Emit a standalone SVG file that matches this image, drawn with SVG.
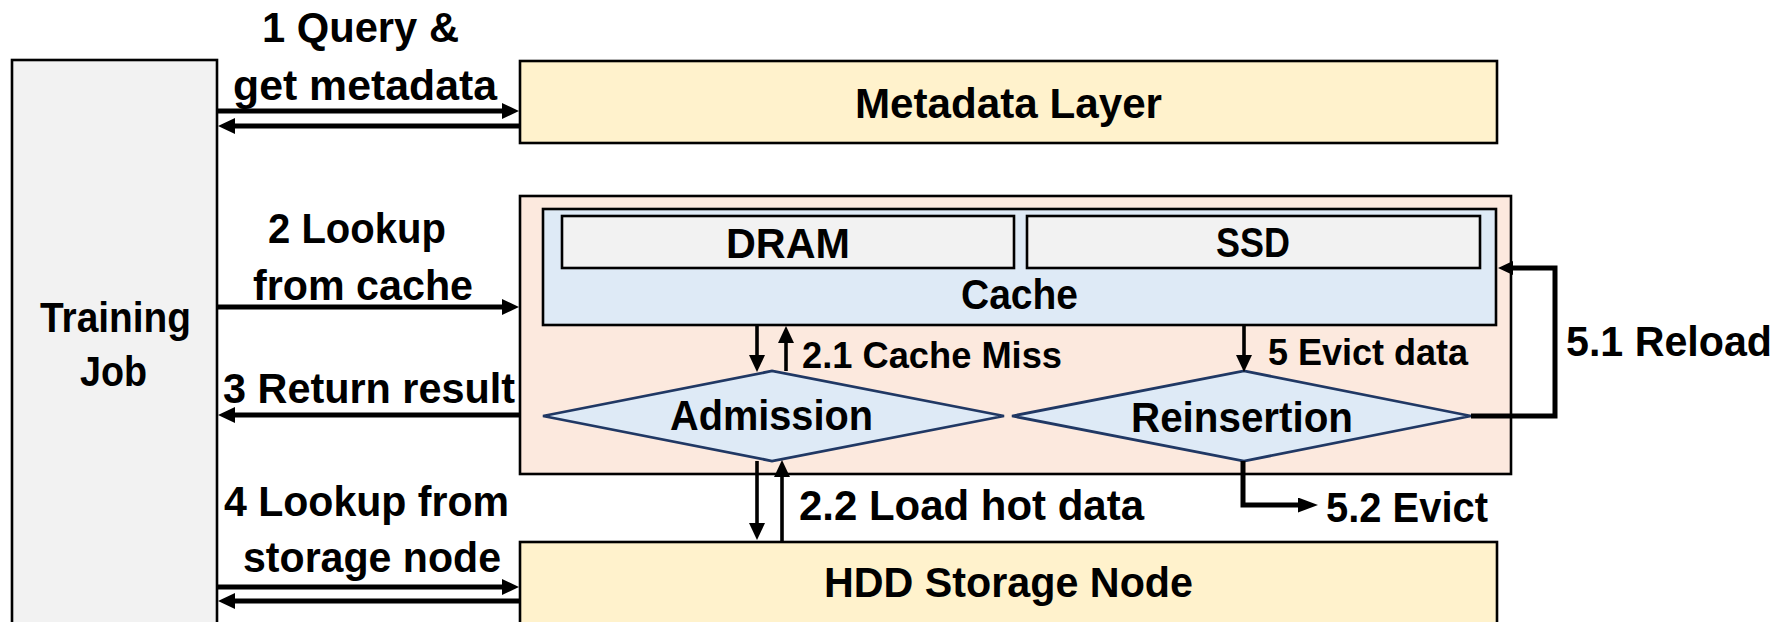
<svg xmlns="http://www.w3.org/2000/svg" width="1786" height="622" viewBox="0 0 1786 622">
  <style>
    .box { stroke: #000; stroke-width: 2.6; }
    .job { fill: #f2f2f2; }
    .layer { fill: #fff2cc; }
    .cachebg { fill: #fce9de; }
    .cache { fill: #deeaf6; }
    .tier { fill: #f2f2f2; }
    .gate { fill: #deeaf6; stroke: #203864; stroke-width: 2.8; stroke-linejoin: miter; }
    text { font-family: "Liberation Sans", Arial, sans-serif; font-weight: bold; fill: #000; }
    .lbl { font-size: 42px; }
    .sm { font-size: 36px; }
    .thick { fill: none; stroke: #000; stroke-width: 4.8; marker-end: url(#head); }
    .thin { fill: none; stroke: #000; stroke-width: 3.6; marker-end: url(#head); }
    .route { fill: none; stroke: #000; stroke-width: 5; }
  </style>
  <defs>
    <marker id="head" markerUnits="userSpaceOnUse" viewBox="0 0 17 16" markerWidth="17" markerHeight="16" refX="5" refY="8" orient="auto">
      <path d="M0,0 L17,8 L0,16 Z" fill="#000"/>
    </marker>
    <marker id="headS" markerUnits="userSpaceOnUse" viewBox="0 0 20 15" markerWidth="20" markerHeight="15" refX="8" refY="7.5" orient="auto">
      <path d="M0,0 L20,7.5 L0,15 Z" fill="#000"/>
    </marker>
    <marker id="headR" markerUnits="userSpaceOnUse" viewBox="0 0 15 14" markerWidth="15" markerHeight="14" refX="4" refY="7" orient="auto">
      <path d="M0,0 L15,7 L0,14 Z" fill="#000"/>
    </marker>
  </defs>

  <g id="training-job">
    <rect class="box job" x="12" y="60" width="205" height="590"/>
    <text class="lbl" x="40" y="332" textLength="151" lengthAdjust="spacingAndGlyphs">Training</text>
    <text class="lbl" x="80" y="386" textLength="67" lengthAdjust="spacingAndGlyphs">Job</text>
  </g>

  <g id="metadata-layer">
    <rect class="box layer" x="520" y="61" width="977" height="82"/>
    <text class="lbl" x="855" y="118" textLength="307" lengthAdjust="spacingAndGlyphs">Metadata Layer</text>
  </g>

  <g id="cache-node">
    <rect class="box cachebg" x="520" y="196" width="991" height="278"/>
  </g>

  <g id="cache">
    <rect class="box cache" x="543" y="209" width="953" height="116"/>
    <text class="lbl" x="961" y="309" textLength="117" lengthAdjust="spacingAndGlyphs">Cache</text>
  </g>

  <g id="dram">
    <rect class="box tier" x="562" y="216" width="452" height="52"/>
    <text class="lbl" x="726" y="258" textLength="124" lengthAdjust="spacingAndGlyphs">DRAM</text>
  </g>

  <g id="ssd">
    <rect class="box tier" x="1027" y="216" width="453" height="52"/>
    <text class="lbl" x="1216" y="257" textLength="74" lengthAdjust="spacingAndGlyphs">SSD</text>
  </g>

  <g id="admission">
    <polygon class="gate" points="543,416 772,371 1004,416 772,461"/>
    <text class="lbl" x="670" y="430" textLength="203" lengthAdjust="spacingAndGlyphs">Admission</text>
  </g>

  <g id="reinsertion">
    <polygon class="gate" points="1012,416 1244,371 1471,416 1244,461"/>
    <text class="lbl" x="1131" y="432" textLength="222" lengthAdjust="spacingAndGlyphs">Reinsertion</text>
  </g>

  <g id="hdd-storage-node">
    <rect class="box layer" x="520" y="542" width="977" height="100"/>
    <text class="lbl" x="824" y="597" textLength="369" lengthAdjust="spacingAndGlyphs">HDD Storage Node</text>
  </g>

  <g id="connectors">
    <!-- 1: query metadata layer and get the reply -->
    <line class="thick" x1="217" y1="111" x2="507" y2="111"/>
    <line class="thick" x1="519" y1="126" x2="230" y2="126"/>
    <!-- 2 / 3: lookup from cache, return result -->
    <line class="thick" x1="217" y1="307" x2="507" y2="307"/>
    <line class="thick" x1="519" y1="415" x2="230" y2="415"/>
    <!-- 4: lookup from storage node -->
    <line class="thick" x1="217" y1="587" x2="507" y2="587"/>
    <line class="thick" x1="519" y1="601" x2="230" y2="601"/>
    <!-- 2.1: cache miss to admission and back -->
    <line class="thin" x1="757" y1="325" x2="757" y2="360"/>
    <line class="thin" x1="786" y1="371" x2="786" y2="338"/>
    <!-- 2.2: load hot data between admission and HDD -->
    <line class="thin" x1="757" y1="461" x2="757" y2="528"/>
    <line class="thin" x1="782" y1="542" x2="782" y2="472"/>
    <!-- 5: evict data into reinsertion -->
    <line class="thin" x1="1244" y1="325" x2="1244" y2="360"/>
    <!-- 5.1: reload back into the cache -->
    <path class="route" d="M1471,416 H1555 V268 H1509" marker-end="url(#headR)"/>
    <!-- 5.2: evict out of the cache -->
    <path class="route" d="M1243,461 V505 H1306" marker-end="url(#headS)"/>
  </g>

  <g id="labels">
    <text class="lbl" x="262" y="42" textLength="197" lengthAdjust="spacingAndGlyphs">1 Query &amp;</text>
    <text class="lbl" x="233" y="100" textLength="264" lengthAdjust="spacingAndGlyphs">get metadata</text>
    <text class="lbl" x="268" y="243" textLength="178" lengthAdjust="spacingAndGlyphs">2 Lookup</text>
    <text class="lbl" x="253" y="300" textLength="220" lengthAdjust="spacingAndGlyphs">from cache</text>
    <text class="lbl" x="223" y="403" textLength="292" lengthAdjust="spacingAndGlyphs">3 Return result</text>
    <text class="lbl" x="224" y="516" textLength="285" lengthAdjust="spacingAndGlyphs">4 Lookup from</text>
    <text class="lbl" x="243" y="572" textLength="258" lengthAdjust="spacingAndGlyphs">storage node</text>
    <text class="sm" x="802" y="368" textLength="260" lengthAdjust="spacingAndGlyphs">2.1 Cache Miss</text>
    <text class="sm" x="1268" y="365" textLength="200" lengthAdjust="spacingAndGlyphs">5 Evict data</text>
    <text class="lbl" x="1566" y="356" textLength="206" lengthAdjust="spacingAndGlyphs">5.1 Reload</text>
    <text class="lbl" x="799" y="520" textLength="345" lengthAdjust="spacingAndGlyphs">2.2 Load hot data</text>
    <text class="lbl" x="1326" y="522" textLength="162" lengthAdjust="spacingAndGlyphs">5.2 Evict</text>
  </g>
</svg>
